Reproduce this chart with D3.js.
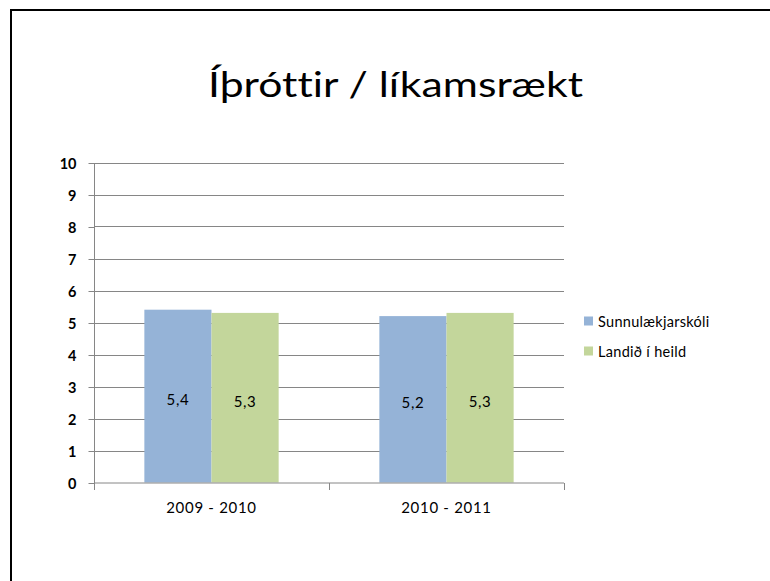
<!DOCTYPE html>
<html><head><meta charset="utf-8">
<script src="https://cdn.jsdelivr.net/npm/d3@7"></script>
<style>body{margin:0;background:#fff;}svg{display:block;}</style>
</head><body>
<svg id="c" width="770" height="581"></svg>
<script>
const title = "Íþróttir / líkamsrækt";
const categories = ["2009 - 2010", "2010 - 2011"];
const seriesNames = ["Sunnulækjarskóli", "Landið í heild"];
const sunnulaekjarskoli = [5.4, 5.2];
const landid = [5.3, 5.3];
const yTicks = [0,1,2,3,4,5,6,7,8,9,10];
const colors = ["#95b3d7", "#c3d69b"];
const seriesValues = [sunnulaekjarskoli, landid];

(function(){
const svg = d3.select("#c");
const font = "Lato, 'Noto Sans', sans-serif";
svg.append("rect").attr("x",0).attr("y",0).attr("width",770).attr("height",581).attr("fill","#fff");
svg.append("path").attr("d","M11,581 V10 H770").attr("fill","none").attr("stroke","#000").attr("stroke-width",2);

const pL=94, pR=564, pT=162.5, pB=482.5;
const y = d3.scaleLinear().domain([0,10]).range([pB, pT]);
const x0 = d3.scaleBand().domain(categories).range([pL,pR]).paddingInner(0).paddingOuter(0);
const bw = x0.bandwidth();
const groupW = bw * 2/3.5;
const x1 = d3.scaleBand().domain(seriesNames).range([0, groupW]).padding(0);

svg.append("g").selectAll("line").data(yTicks.filter(d=>d>0)).join("line")
  .attr("x1",pL).attr("x2",pR).attr("y1",d=>Math.round(y(d))+0.5).attr("y2",d=>Math.round(y(d))+0.5)
  .attr("stroke","#868686").attr("stroke-width",1);

const rows = [];
categories.forEach((c,i)=>seriesNames.forEach((s,j)=>rows.push({c,s,j,v:seriesValues[j][i]})));
const g = svg.append("g");
g.selectAll("rect").data(rows).join("rect")
  .attr("x",d=>x0(d.c)+(bw-groupW)/2 + x1(d.s))
  .attr("width",x1.bandwidth())
  .attr("y",d=>y(d.v)).attr("height",d=>pB-y(d.v))
  .attr("fill",d=>colors[d.j]);
g.selectAll("text").data(rows).join("text")
  .attr("x",d=>x0(d.c)+(bw-groupW)/2 + x1(d.s)+x1.bandwidth()/2)
  .attr("y",d=>(y(d.v)+pB)/2+9)
  .attr("text-anchor","middle").attr("font-family",font).attr("font-size",15).attr("letter-spacing",0.6).attr("fill","#000")
  .text(d=>d.v.toFixed(1).replace(".",","));

const yAxis = d3.axisLeft(y).tickValues(yTicks).tickSize(6).tickPadding(12).tickFormat(d=>String(d));
const ya = svg.append("g").attr("transform",`translate(${pL+0.5},0.5)`).call(yAxis);
ya.select(".domain").attr("stroke","#868686").attr("d",`M0,${pT}V${pB}`);
ya.selectAll(".tick line").attr("stroke","#868686");
ya.selectAll(".tick text").attr("font-family",font).attr("font-size",14.5).attr("fill","#000").attr("font-weight","bold").attr("dy","0.36em");

const xAxis = d3.axisBottom(x0).tickSize(0).tickPadding(19);
const xa = svg.append("g").attr("transform",`translate(0,${pB+0.5})`).call(xAxis);
xa.select(".domain").attr("stroke","#868686").attr("d",`M${pL},0H${pR}`);
xa.selectAll(".tick text").attr("font-family",font).attr("font-size",15).attr("letter-spacing",0.7).attr("fill","#000");
const sep = [pL, ...categories.map(c=>x0(c)+bw)];
xa.append("g").selectAll("line").data(sep).join("line")
  .attr("x1",d=>Math.round(d)+0.5).attr("x2",d=>Math.round(d)+0.5).attr("y1",0).attr("y2",7)
  .attr("stroke","#868686");

svg.append("text").attr("x",208).attr("y",97)
  .attr("font-family",font).attr("font-size",34).attr("fill","#000")
  .attr("textLength",375).attr("lengthAdjust","spacingAndGlyphs")
  .style("font-variant-ligatures","none").text(title);

const lg = svg.append("g").selectAll("g").data(seriesNames).join("g")
  .attr("transform",(d,i)=>`translate(584,${321+i*30})`);
lg.append("rect").attr("x",0).attr("y",-4.5).attr("width",9).attr("height",9).attr("fill",(d,i)=>colors[i]);
lg.append("text").attr("x",14).attr("y",5.5).attr("font-family",font).attr("font-size",14.5).attr("letter-spacing",0.3).attr("fill","#000").text(d=>d);
})();
</script>
</body></html>
